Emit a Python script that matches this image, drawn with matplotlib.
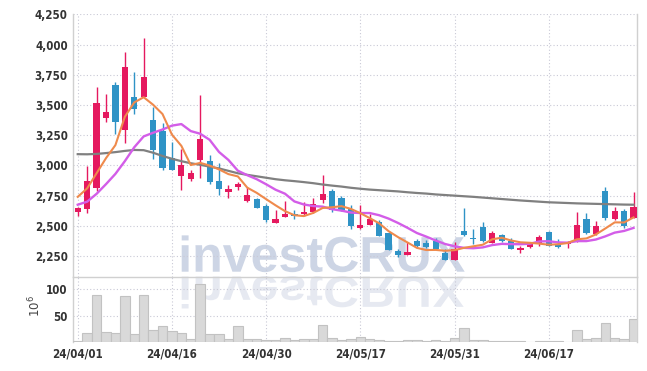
import numpy as np
import matplotlib
matplotlib.use("Agg")
import matplotlib.pyplot as plt
from matplotlib.textpath import TextPath
from matplotlib.patches import PathPatch
from matplotlib.font_manager import FontProperties
from matplotlib.transforms import Affine2D, IdentityTransform

# 거래일 (24/04/01 ~ 24/06/28)
dates = ["24/04/01", "24/04/02", "24/04/03", "24/04/04", "24/04/05", "24/04/08", "24/04/09", "24/04/11", "24/04/12", "24/04/15",
         "24/04/16", "24/04/17", "24/04/18", "24/04/19", "24/04/22", "24/04/23", "24/04/24", "24/04/25", "24/04/26", "24/04/29",
         "24/04/30", "24/05/02", "24/05/03", "24/05/07", "24/05/08", "24/05/09", "24/05/10", "24/05/13", "24/05/14", "24/05/16",
         "24/05/17", "24/05/20", "24/05/21", "24/05/22", "24/05/23", "24/05/24", "24/05/27", "24/05/28", "24/05/29", "24/05/30",
         "24/05/31", "24/06/03", "24/06/04", "24/06/05", "24/06/07", "24/06/10", "24/06/11", "24/06/12", "24/06/13", "24/06/14",
         "24/06/17", "24/06/18", "24/06/19", "24/06/20", "24/06/21", "24/06/24", "24/06/25", "24/06/26", "24/06/27", "24/06/28"]

opens = [2611, 2639, 2811, 3394, 3666, 3297, 3569, 3569, 3375, 3283,
         3060, 2910, 2890, 3043, 3035, 2870, 2781, 2823, 2704, 2726,
         2663, 2525, 2575, 2602, 2594, 2614, 2718, 2785, 2732, 2641,
         2481, 2509, 2536, 2440, 2296, 2260, 2375, 2361, 2375, 2278,
         2217, 2458, 2397, 2492, 2361, 2422, 2375, 2300, 2325, 2347,
         2450, 2353, 2347, 2375, 2555, 2430, 2792, 2555, 2625, 2569]
highs = [2658, 2994, 3647, 3589, 3686, 3939, 3772, 4055, 3486, 3347,
         3194, 3138, 2965, 3580, 3090, 3024, 2842, 2860, 2823, 2730,
         2677, 2635, 2704, 2630, 2696, 2730, 2923, 2807, 2743, 2669,
         2674, 2600, 2545, 2445, 2310, 2365, 2395, 2380, 2397, 2311,
         2370, 2647, 2478, 2533, 2458, 2430, 2403, 2333, 2361, 2425,
         2455, 2394, 2372, 2611, 2603, 2542, 2819, 2653, 2639, 2783]
lows = [2578, 2605, 2790, 3361, 3263, 3188, 3424, 3565, 3055, 2958,
        2958, 2800, 2870, 2900, 2850, 2754, 2734, 2800, 2700, 2645,
        2533, 2520, 2570, 2560, 2585, 2605, 2690, 2614, 2627, 2476,
        2478, 2503, 2415, 2300, 2240, 2255, 2320, 2320, 2305, 2215,
        2215, 2415, 2347, 2370, 2355, 2367, 2305, 2272, 2314, 2333,
        2330, 2320, 2320, 2370, 2430, 2425, 2547, 2547, 2486, 2565]
closes = [2644, 2875, 3520, 3441, 3361, 3817, 3469, 3733, 3130, 2977,
          2963, 3005, 2940, 3222, 2864, 2803, 2809, 2845, 2754, 2649,
          2547, 2555, 2602, 2583, 2614, 2677, 2760, 2633, 2633, 2498,
          2503, 2553, 2420, 2304, 2255, 2282, 2330, 2328, 2311, 2217,
          2311, 2425, 2390, 2375, 2444, 2375, 2311, 2317, 2353, 2408,
          2333, 2328, 2367, 2508, 2444, 2500, 2569, 2625, 2500, 2658]

# 이동평균선
ma5 = [2740, 2810, 2935, 3060, 3168, 3402, 3521, 3564, 3502, 3425,
       3255, 3162, 3003, 3021, 2999, 2967, 2928, 2909, 2816, 2773,
       2721, 2670, 2622, 2588, 2581, 2607, 2648, 2654, 2663, 2640,
       2605, 2564, 2521, 2456, 2407, 2363, 2318, 2300, 2301, 2294,
       2299, 2318, 2331, 2344, 2389, 2402, 2379, 2364, 2360, 2353,
       2344, 2348, 2358, 2389, 2396, 2429, 2478, 2529, 2528, 2570]
ma10 = [2675, 2700, 2765, 2845, 2930, 3035, 3150, 3240, 3270, 3297,
        3329, 3342, 3284, 3262, 3212, 3111, 3045, 2956, 2919, 2886,
        2844, 2799, 2766, 2702, 2677, 2664, 2659, 2638, 2626, 2610,
        2606, 2606, 2588, 2560, 2524, 2484, 2441, 2411, 2379, 2350,
        2331, 2318, 2315, 2322, 2341, 2351, 2349, 2348, 2352, 2371,
        2373, 2363, 2361, 2374, 2374, 2387, 2413, 2444, 2458, 2483]
ma_long = [3093, 3092, 3095, 3102, 3110, 3120, 3128, 3126, 3105, 3078,
           3055, 3035, 3018, 3005, 2990, 2975, 2955, 2935, 2922, 2910,
           2898, 2886, 2877, 2870, 2862, 2853, 2842, 2833, 2825, 2815,
           2807, 2800, 2795, 2790, 2785, 2778, 2772, 2767, 2760, 2755,
           2750, 2745, 2740, 2734, 2728, 2722, 2716, 2710, 2705, 2700,
           2695, 2692, 2689, 2686, 2684, 2682, 2680, 2678, 2676, 2675]

# 거래량 (백만)
volume = [2.5, 17, 89, 19, 17, 87, 16, 89, 24, 31,
          21, 17, 6, 110, 16, 16, 5.5, 31, 6, 6,
          4, 4, 7.5, 4, 5.5, 5.5, 32, 7.5, 4.5, 5.5,
          9.5, 5.5, 4, 2.5, 2.5, 4, 4, 2.5, 4, 2.5,
          7.5, 26, 4.5, 4, 2.5, 2.5, 2.5, 2, 0.6, 2.5,
          2.5, 2.5, 0.6, 24, 6, 8, 36, 7.5, 5.5, 43]

price_ticks = [2250, 2500, 2750, 3000, 3250, 3500, 3750, 4000, 4250]
vol_ticks = [50, 100]
tick_idx = [0, 10, 20, 30, 40, 50]

UP = "#e5195f"
DOWN = "#2f93c6"
GRID = "#c9c9d6"
SPINE = "#d0d0d0"

x = np.arange(len(dates))
o = np.array(opens)
c = np.array(closes)
colors = [UP if cc >= oo else DOWN for oo, cc in zip(o, c)]

fig = plt.figure(figsize=(6.47, 3.71), dpi=100)
fig.patch.set_facecolor("white")
ax = fig.add_axes([73.3 / 647, 1 - 277 / 371, (637.3 - 73.3) / 647, (277 - 14.3) / 371])
axv = fig.add_axes([73.3 / 647, 1 - 342.3 / 371, (637.3 - 73.3) / 647, (342.3 - 277) / 371], sharex=ax)

tick_font = FontProperties(family="DejaVu Sans", weight="bold", stretch="condensed", size=8.3)

for a in (ax, axv):
    a.set_facecolor("none")
    for s in a.spines.values():
        s.set_color(SPINE)
        s.set_linewidth(1)
    a.tick_params(length=0, labelcolor="#333333", pad=4)
    a.grid(True, color=GRID, linestyle=(0, (1, 2)), linewidth=0.8)
    a.set_axisbelow(True)
ax.spines["top"].set_visible(False)
axv.spines["top"].set_visible(False)
axv.spines["bottom"].set_visible(False)

# 캔들
ax.vlines(x, lows, highs, colors=colors, linewidth=1.0, zorder=3)
body_h = np.maximum(np.abs(c - o), 6)
ax.bar(x, body_h, bottom=np.minimum(o, c), width=0.66, color=colors, zorder=3, linewidth=0)

# 이동평균
ax.plot(x, ma_long, color="#808080", linewidth=1.6, zorder=4)
ax.plot(x, ma10, color="#d35de8", linewidth=1.7, zorder=4)
ax.plot(x, ma5, color="#ef8a4c", linewidth=1.5, zorder=4)

ax.set_ylim(2077, 4250)
ax.set_yticks(price_ticks)
ax.set_yticklabels([f"{v:,}" for v in price_ticks], fontproperties=tick_font)
ax.set_xlim(-0.47, 59.4)
ax.set_xticks(tick_idx)
ax.tick_params(axis="x", labelbottom=False)

# 거래량
axv.bar(x, volume, width=1.0, color="#d9d9d9", edgecolor="#c2c2c2", linewidth=0.8, zorder=3)
axv.set_ylim(0, 123)
axv.set_yticks(vol_ticks)
axv.set_yticklabels([str(v) for v in vol_ticks], fontproperties=tick_font)
axv.set_xticks(tick_idx)
axv.set_xticklabels([dates[i] for i in tick_idx], fontproperties=tick_font)
fig.text(35 / 647, 1 - 306 / 371, r"$10^{6}$", rotation=90, ha="center", va="center",
         fontsize=8.5, color="#444444")

# 워터마크
fp = FontProperties(family="Liberation Sans", weight="bold")
tp = TextPath((0, 0), "investCRUX", size=50, prop=fp)
ext = tp.get_extents()
sc = 283.0 / ext.width
x0 = 181.7 - ext.x0 * sc
main_tr = Affine2D().scale(sc, sc).translate(x0, 371 - 271.7)
refl_tr = Affine2D().scale(sc, -sc * 0.88).translate(x0, 371 - 276.5)
fig.add_artist(PathPatch(main_tr.transform_path(tp), transform=IdentityTransform(),
                         facecolor="#cdd5e5", edgecolor="none", zorder=-1))
fig.add_artist(PathPatch(refl_tr.transform_path(tp), transform=IdentityTransform(),
                         facecolor="#e6e9f1", edgecolor="none", zorder=-1))

fig.savefig("out.png", dpi=100, facecolor="white")
